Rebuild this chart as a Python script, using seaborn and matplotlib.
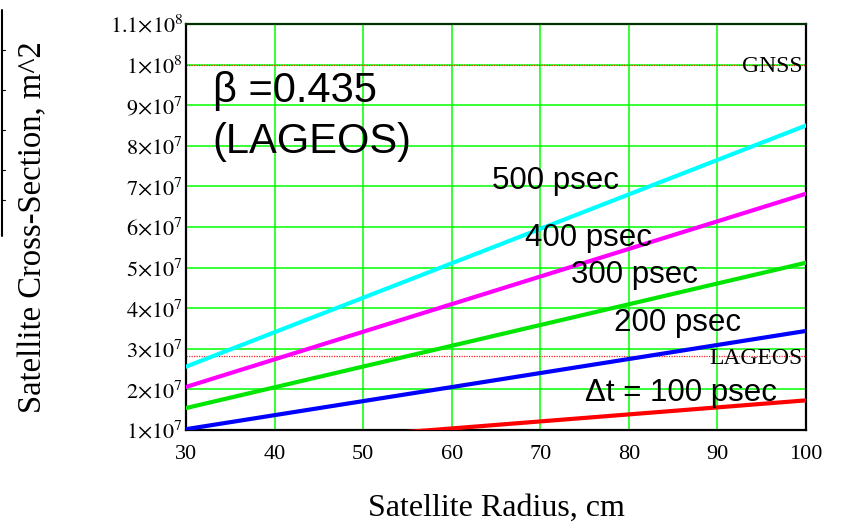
import numpy as np
import pandas as pd
import matplotlib
matplotlib.use("Agg")
import matplotlib.pyplot as plt
from matplotlib.lines import Line2D
import seaborn as sns

# Satellite radius (cm) at the ends of each straight line
radius = [30, 100]

# Cross-section (m^2) at those radii for each pulse width
sigma_500 = [2.56e7, 8.50e7]
sigma_400 = [2.06e7, 6.82e7]
sigma_300 = [1.54e7, 5.12e7]
sigma_200 = [1.02e7, 3.44e7]
sigma_100 = [0.52e7, 1.73e7]

pulse_labels = ["500 psec", "400 psec", "300 psec", "200 psec", "\u0394t = 100 psec"]

# Reference cross-sections
gnss_sigma = 1.0e8
lageos_sigma = 2.82e7

x_ticks = [30, 40, 50, 60, 70, 80, 90, 100]
y_ticks = [1e7, 2e7, 3e7, 4e7, 5e7, 6e7, 7e7, 8e7, 9e7, 1e8, 1.1e8]
y_tick_labels = [r"$1{\times}10^{7}$", r"$2{\times}10^{7}$", r"$3{\times}10^{7}$",
                 r"$4{\times}10^{7}$", r"$5{\times}10^{7}$", r"$6{\times}10^{7}$",
                 r"$7{\times}10^{7}$", r"$8{\times}10^{7}$", r"$9{\times}10^{7}$",
                 r"$1{\times}10^{8}$", r"$1.1{\times}10^{8}$"]

sns.set_style("white")
plt.rcParams["font.family"] = ["Liberation Serif", "DejaVu Serif"]
plt.rcParams["mathtext.fontset"] = "stix"
plt.rcParams["text.color"] = "black"
plt.rcParams["axes.labelcolor"] = "black"

series = {"500": sigma_500, "400": sigma_400, "300": sigma_300,
          "200": sigma_200, "100": sigma_100}
df = pd.DataFrame([
    {"pulse": k, "radius": r, "sigma": s}
    for k, vals in series.items() for r, s in zip(radius, vals)
])
palette = {"500": "#00ffff", "400": "#ff00ff", "300": "#00e600",
           "200": "#0000ff", "100": "#ff0000"}

fig = plt.figure(figsize=(8.44, 5.23), dpi=100)
ax = fig.add_axes([186 / 844, 1 - 430 / 523, 620 / 844, 406 / 523])

ax.set_xlim(30, 100)
ax.set_ylim(1e7, 1.1e8)
ax.set_xticks(x_ticks)
ax.set_yticks(y_ticks)
ax.set_yticklabels(y_tick_labels)
ax.grid(True, color="#00ff00", linewidth=1.1, zorder=0)
ax.set_axisbelow(True)

sns.lineplot(data=df, x="radius", y="sigma", hue="pulse", palette=palette,
             linewidth=3.0, legend=False, ax=ax, zorder=3)

# Reference levels for GNSS and LAGEOS
ax.axhline(gnss_sigma, color="#d04000", linewidth=0.9, linestyle=(0, (1, 1)), zorder=2)
ax.axhline(lageos_sigma, color="#ff2020", linewidth=0.9, linestyle=(0, (1, 1)), zorder=2)
ax.text(99.6, gnss_sigma - 0.05e7, "GNSS", ha="right", va="center", fontsize=17,
        family="Liberation Serif", zorder=4)
ax.text(99.6, lageos_sigma - 0.05e7, "LAGEOS", ha="right", va="center", fontsize=17,
        family="Liberation Serif", zorder=4)

sans = ["Liberation Sans", "DejaVu Sans"]
ax.text(33.0, 9.36e7, "\u03b2 =0.435", ha="left", va="center", fontsize=30, family=sans, zorder=4)
ax.text(33.0, 8.10e7, "(LAGEOS)", ha="left", va="center", fontsize=30, family=sans, zorder=4)

label_pos = [(64.6, 7.13e7), (68.3, 5.73e7), (73.5, 4.82e7), (78.3, 3.64e7), (75.0, 1.91e7)]
for text, (lx, ly) in zip(pulse_labels, label_pos):
    ax.text(lx, ly, text, ha="left", va="center", fontsize=22.5, family=sans, zorder=4)

for side in ["left", "right", "top", "bottom"]:
    ax.spines[side].set_visible(True)
    ax.spines[side].set_color("black")
    ax.spines[side].set_linewidth(1.6)
ax.spines["top"].set_color("#003300")

ax.tick_params(axis="both", length=0, labelsize=16, colors="black")
ax.tick_params(axis="x", pad=11)
ax.tick_params(axis="y", pad=2)

ax.set_xlabel("Satellite Radius, cm", fontsize=23)
ax.set_ylabel("Satellite Cross-Section, m^2", fontsize=23.5)
ax.yaxis.set_label_coords(-0.222, 0.5)
ax.xaxis.set_label_coords(0.5, -0.158)

# Partial frame of a neighbouring panel at the left edge
fig.add_artist(Line2D([2 / 844, 2 / 844], [1 - 10 / 523, 1 - 236 / 523],
                      color="black", linewidth=1.5))
for ty in [50, 90, 130, 170, 200]:
    fig.add_artist(Line2D([2 / 844, 5 / 844], [1 - ty / 523, 1 - ty / 523],
                          color="black", linewidth=0.8))

fig.savefig("out.png", dpi=100)
